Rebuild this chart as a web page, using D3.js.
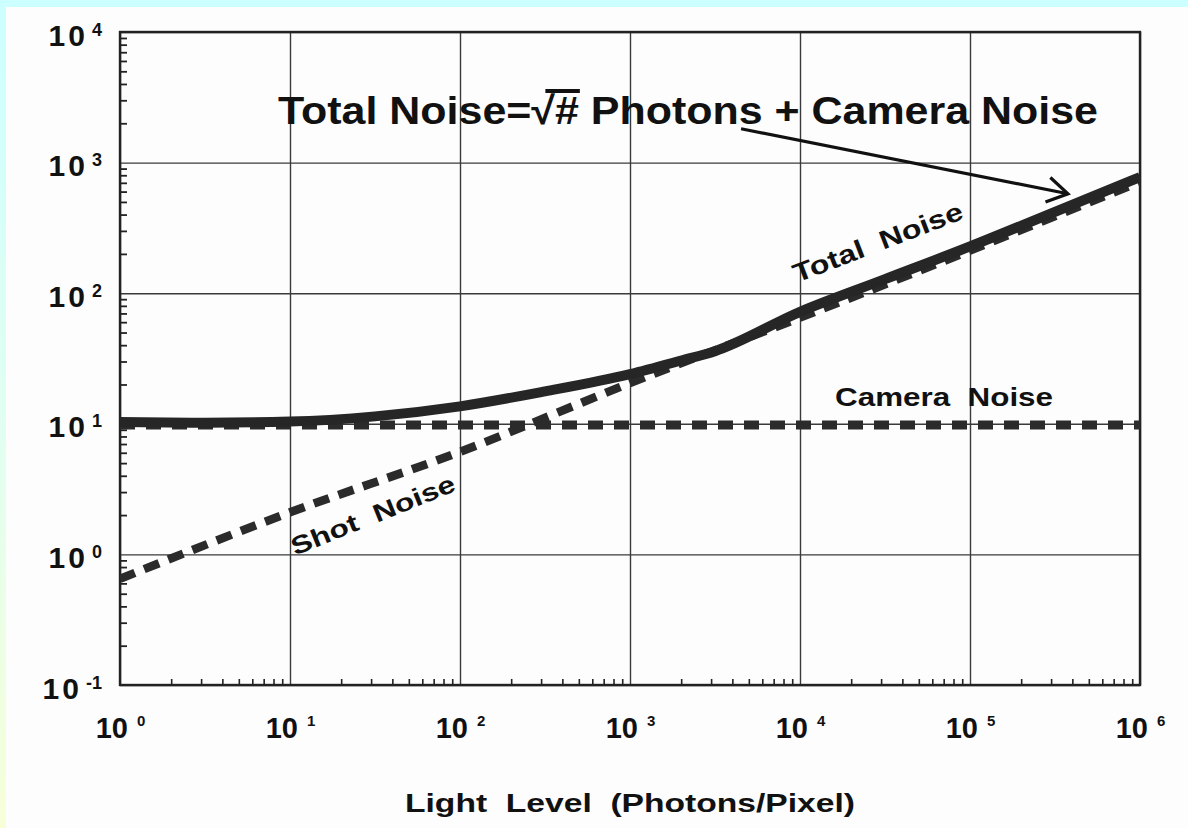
<!DOCTYPE html>
<html>
<head>
<meta charset="utf-8">
<script src="https://cdn.jsdelivr.net/npm/d3@7"></script>
<style>
  html, body { margin: 0; padding: 0; background: #fff; }
  svg { display: block; }
  text { font-family: "Liberation Sans", Arial, Helvetica, sans-serif; fill: #111; }
</style>
</head>
<body>
<svg id="chart" width="1188" height="828"></svg>
<script>
// Light level (photons per pixel) and the noise curves read at those levels
const lightLevels  = [1, 3.16, 10, 31.6, 100, 316, 1000, 2000, 3162, 10000, 31623, 100000, 316228, 1000000];
const totalNoise   = [10.3, 10.2, 10.4, 11.4, 13.6, 17.7, 24, 30.5, 36, 72, 128, 228, 420, 775];
const shotLevels   = [1, 10, 100, 1000, 10000, 100000, 1000000];
const shotNoise    = [0.65, 2.1, 6.1, 20.5, 65, 212, 715];
const cameraLevels = [1, 1000000];
const cameraNoise  = [9.8, 9.8];

// Decade ticks and their exponent labels
const xDecades   = [1, 10, 100, 1000, 10000, 100000, 1000000];
const xExponents = ["0", "1", "2", "3", "4", "5", "6"];
const yDecades   = [0.1, 1, 10, 100, 1000, 10000];
const yExponents = ["-1", "0", "1", "2", "3", "4"];

const xTitle = "Light  Level  (Photons/Pixel)";
const formulaParts = ["Total Noise=", "\u221A", "#", " Photons + Camera Noise"];

const svg = d3.select("#chart");
const W = 1188, H = 828;
const plot = { left: 120, right: 1140, top: 32, bottom: 685 };

// page: scanned sheet with a tinted border
const defs = svg.append("defs");
const grad = defs.append("linearGradient").attr("id", "edge").attr("x1", 0).attr("y1", 0).attr("x2", 0).attr("y2", 1);
grad.append("stop").attr("offset", "0%").attr("stop-color", "#ccffff");
grad.append("stop").attr("offset", "55%").attr("stop-color", "#e2fff0");
grad.append("stop").attr("offset", "100%").attr("stop-color", "#f6ffd8");
svg.append("rect").attr("width", W).attr("height", H).attr("fill", "url(#edge)");
svg.append("rect").attr("x", 0).attr("y", 0).attr("width", W).attr("height", 7).attr("fill", "#ccffff");
svg.append("rect").attr("x", 6).attr("y", 7).attr("width", W - 6).attr("height", H - 7).attr("fill", "#fdfdfd");

defs.append("clipPath").attr("id", "plotClip").append("rect")
  .attr("x", plot.left).attr("y", plot.top)
  .attr("width", plot.right - plot.left).attr("height", plot.bottom - plot.top);

const x = d3.scaleLog().domain([1, 1e6]).range([plot.left, plot.right]);
const y = d3.scaleLog().domain([0.1, 1e4]).range([plot.bottom, plot.top]);

// minor values 2..9 within each decade
function minors(decades) {
  const out = [];
  decades.slice(0, -1).forEach(d => { for (let k = 2; k <= 9; k++) out.push(d * k); });
  return out;
}

// grid lines at every decade
svg.append("g").attr("class", "grid-x")
  .attr("transform", `translate(0,${plot.bottom})`)
  .call(d3.axisBottom(x).tickValues(xDecades).tickSize(-(plot.bottom - plot.top)).tickFormat(""))
  .call(g => g.select(".domain").remove())
  .call(g => g.selectAll("line").attr("stroke", "#3a3a3a").attr("stroke-width", 1.4));
svg.append("g").attr("class", "grid-y")
  .attr("transform", `translate(${plot.left},0)`)
  .call(d3.axisLeft(y).tickValues(yDecades).tickSize(-(plot.right - plot.left)).tickFormat(""))
  .call(g => g.select(".domain").remove())
  .call(g => g.selectAll("line").attr("stroke", "#3a3a3a").attr("stroke-width", 1.4));

// inward minor ticks on the left and bottom axes
svg.append("g").attr("transform", `translate(${plot.left},0)`)
  .call(d3.axisLeft(y).tickValues(minors(yDecades)).tickSize(-7).tickFormat(""))
  .call(g => g.select(".domain").remove())
  .call(g => g.selectAll("line").attr("stroke", "#222").attr("stroke-width", 1.8));
svg.append("g").attr("transform", `translate(0,${plot.bottom})`)
  .call(d3.axisBottom(x).tickValues(minors(xDecades)).tickSize(-6).tickFormat(""))
  .call(g => g.select(".domain").remove())
  .call(g => g.selectAll("line").attr("stroke", "#222").attr("stroke-width", 1.6));

// frame
svg.append("rect")
  .attr("x", plot.left).attr("y", plot.top)
  .attr("width", plot.right - plot.left).attr("height", plot.bottom - plot.top)
  .attr("fill", "none").attr("stroke", "#222").attr("stroke-width", 2.4);

// decade labels with superscript exponents
const yAxis = svg.append("g").attr("transform", `translate(${plot.left},0)`)
  .call(d3.axisLeft(y).tickValues(yDecades).tickSize(0).tickPadding(18).tickFormat(""));
yAxis.select(".domain").remove();
yAxis.selectAll(".tick text").each(function (d, i) {
  const t = d3.select(this).attr("dy", "13px").attr("fill", "#111")
    .attr("font-family", "Liberation Sans, Arial, sans-serif");
  t.append("tspan").text("10").attr("font-size", 30).attr("font-weight", "bold").attr("letter-spacing", "3px");
  t.append("tspan").text(yExponents[i]).attr("font-size", 18).attr("font-weight", "bold")
    .attr("dx", 4).attr("dy", -10);
});

const xAxis = svg.append("g").attr("transform", `translate(0,${plot.bottom})`)
  .call(d3.axisBottom(x).tickValues(xDecades).tickSize(0).tickFormat(""));
xAxis.select(".domain").remove();
xAxis.selectAll(".tick text").each(function (d, i) {
  const t = d3.select(this).attr("y", 53).attr("dy", 0).attr("fill", "#111")
    .attr("font-family", "Liberation Sans, Arial, sans-serif").attr("text-anchor", "middle");
  t.append("tspan").text("10").attr("font-size", 29).attr("font-weight", "bold");
  t.append("tspan").text(xExponents[i]).attr("font-size", 15).attr("font-weight", "bold")
    .attr("dx", 9).attr("dy", -12);
});

// axis title
svg.append("text")
  .attr("x", 405).attr("y", 812)
  .attr("font-size", 26).attr("font-weight", "bold")
  .attr("textLength", 450).attr("lengthAdjust", "spacingAndGlyphs")
  .style("white-space", "pre")
  .text(xTitle);

// curves
const line = d3.line().x(d => x(d[0])).y(d => y(d[1])).curve(d3.curveMonotoneX);
const curves = svg.append("g").attr("clip-path", "url(#plotClip)");

curves.append("path")
  .datum(cameraLevels.map((v, i) => [v, cameraNoise[i]]))
  .attr("d", line).attr("fill", "none")
  .attr("stroke", "#2b2b2b").attr("stroke-width", 9).attr("stroke-dasharray", "15,11");

curves.append("path")
  .datum(shotLevels.map((v, i) => [v, shotNoise[i]]))
  .attr("d", line).attr("fill", "none")
  .attr("stroke", "#2b2b2b").attr("stroke-width", 8.5).attr("stroke-dasharray", "16,10");

curves.append("path")
  .datum(lightLevels.map((v, i) => [v, totalNoise[i]]))
  .attr("d", line).attr("fill", "none")
  .attr("stroke", "#262626").attr("stroke-width", 10).attr("stroke-linejoin", "round");

// curve labels, anchored in data units
function curveLabel(txt, lx, ly, angle, len, size) {
  const px = x(lx), py = y(ly);
  svg.append("text")
    .attr("transform", `translate(${px},${py}) rotate(${angle})`)
    .attr("font-size", size).attr("font-weight", "bold")
    .attr("textLength", len).attr("lengthAdjust", "spacingAndGlyphs")
    .style("white-space", "pre")
    .text(txt);
}
curveLabel("Total  Noise", 9600, 120, -21, 180, 26);
curveLabel("Camera  Noise", 16069, 13.7, 0, 218, 25);
curveLabel("Shot  Noise", 10.7, 0.975, -22, 175, 25);

// formula annotation with arrow to the total-noise curve
const formula = svg.append("text")
  .attr("x", 278).attr("y", 124)
  .attr("font-size", 39).attr("font-weight", "bold")
  .style("white-space", "pre");
formulaParts.forEach(p => formula.append("tspan").text(p));
formula.attr("textLength", 820).attr("lengthAdjust", "spacingAndGlyphs");

// overline of the radical across "#"
const fnode = formula.node();
const iHash = formulaParts[0].length + 1;
const s0 = fnode.getStartPositionOfChar(iHash - 1);
const e1 = fnode.getEndPositionOfChar(iHash);
svg.append("line")
  .attr("x1", s0.x + 14).attr("x2", e1.x + 1)
  .attr("y1", 124 - 33).attr("y2", 124 - 33)
  .attr("stroke", "#111").attr("stroke-width", 4);

const arrowFrom = [4500, 1816], arrowTo = [377000, 577];
const ax0 = x(arrowFrom[0]), ay0 = y(arrowFrom[1]);
const ax1 = x(arrowTo[0]), ay1 = y(arrowTo[1]);
svg.append("line")
  .attr("x1", ax0).attr("y1", ay0).attr("x2", ax1).attr("y2", ay1)
  .attr("stroke", "#111").attr("stroke-width", 3.2);
const ang = Math.atan2(ay1 - ay0, ax1 - ax0);
const head = 24, spread = 0.55;
svg.append("path")
  .attr("d", `M${ax1 - head * Math.cos(ang - spread)},${ay1 - head * Math.sin(ang - spread)} L${ax1},${ay1} L${ax1 - head * Math.cos(ang + spread)},${ay1 - head * Math.sin(ang + spread)}`)
  .attr("fill", "none").attr("stroke", "#111").attr("stroke-width", 3.2);
</script>
</body>
</html>
